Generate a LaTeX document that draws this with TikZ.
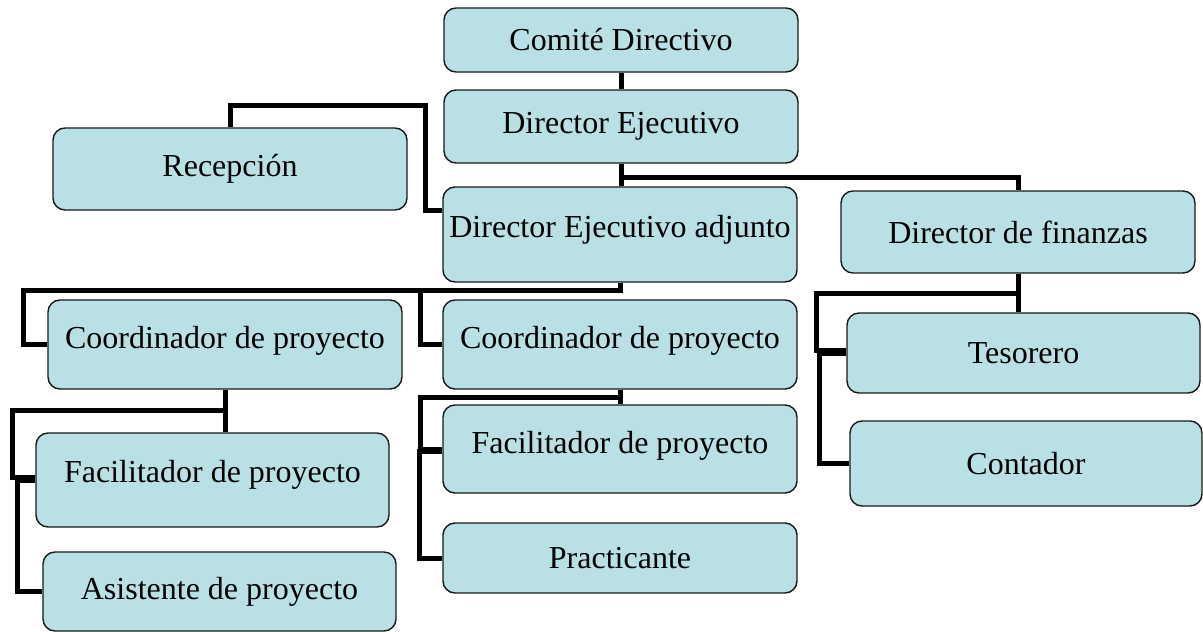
\documentclass[tikz,border=0pt]{standalone}
\usepackage{fontspec}
\setmainfont{Liberation Serif}
\usetikzlibrary{positioning}
\usetikzlibrary{backgrounds}
\definecolor{boxfill}{RGB}{185,224,228}
\definecolor{boxline}{RGB}{25,25,25}
\tikzset{x=1pt, y=-1pt,
    every node/.style={
        font=\fontsize{32}{38}\selectfont},
    orgbox/.style={
        draw=boxline,
        line width=1.4pt,
        fill=boxfill,
        rounded corners=12pt,
        minimum width=354pt,
        inner sep=0pt},
    link/.style={
        draw,
        line width=5pt}}

\begin{document}
\begin{tikzpicture}
        \useasboundingbox (0,0) rectangle (1203,632);

        \node[orgbox, minimum height=64pt] (comite) at (621,40) {Comité Directivo};
        \node[orgbox, minimum height=73pt] (dirEj) at (621,126.5) {Director Ejecutivo};
        \node[orgbox, minimum height=82pt] (recep) at (230,169) {Recepción};
        \node[orgbox, minimum height=95pt, text depth=16pt] (dirAdj) at (620,234.5) {Director Ejecutivo adjunto};
        \node[orgbox, minimum height=82pt] (dirFin) at (1018,232) {Director de finanzas};
        \node[orgbox, minimum height=89pt, text depth=14pt] (coordA) at (225,344.5) {Coordinador de proyecto};
        \node[orgbox, minimum height=89pt, text depth=14pt] (coordB) at (620,344.5) {Coordinador de proyecto};
        \node[orgbox, minimum height=80pt, minimum width=353pt] (tes) at (1023.5,353) {Tesorero};
        \node[orgbox, minimum height=85pt, minimum width=352pt] (cont) at (1026,463.5) {Contador};
        \node[orgbox, minimum height=94pt, minimum width=353pt, text depth=18pt] (facA) at (212.5,480) {Facilitador de proyecto};
        \node[orgbox, minimum height=79pt, minimum width=353pt] (asis) at (219.5,591.5) {Asistente de proyecto};
        \node[orgbox, minimum height=88pt, text depth=14pt] (facB) at (620,449) {Facilitador de proyecto};
        \node[orgbox, minimum height=70pt] (prac) at (620,558) {Practicante};

        \begin{scope}[on background layer]
        \draw[link] (comite) -- (dirEj);
        \draw[link] (dirEj.south) -- (dirEj.south |- dirAdj.north);
        \draw[link] (dirEj.south |- 0,177) -| (dirFin.north);
        \draw[link] (recep.north) |- (425,105) |- (dirAdj.west |- 0,210);
        \draw[link] (dirAdj.south) |- (23,290) |- (coordA.west);
        \draw[link] (dirAdj.south) |- (420,290) |- (coordB.west);
        \draw[link] (dirFin.south) -- (dirFin.south |- tes.north);
        \draw[link] (dirFin.south) |- (816,293) |- ([yshift=3pt]tes.west);
        \draw[link] (tes.west) -- ++(-27,0) |- (cont.west);
        \draw[link] (coordA.south) -- (coordA.south |- facA.north);
        \draw[link] (coordA.south) |- (12,410) |- ([yshift=3pt]facA.west);
        \draw[link] (facA.west) -- ++(-18,0) |- (asis.west);
        \draw[link] (coordB.south) -- (facB.north);
        \draw[link] (coordB.south) |- (420,397) |- (facB.west);
        \draw[link] ([yshift=-2pt]facB.west) -- ++(-23,0) |- (prac.west);
        \end{scope}
    \end{tikzpicture}
\end{document}
